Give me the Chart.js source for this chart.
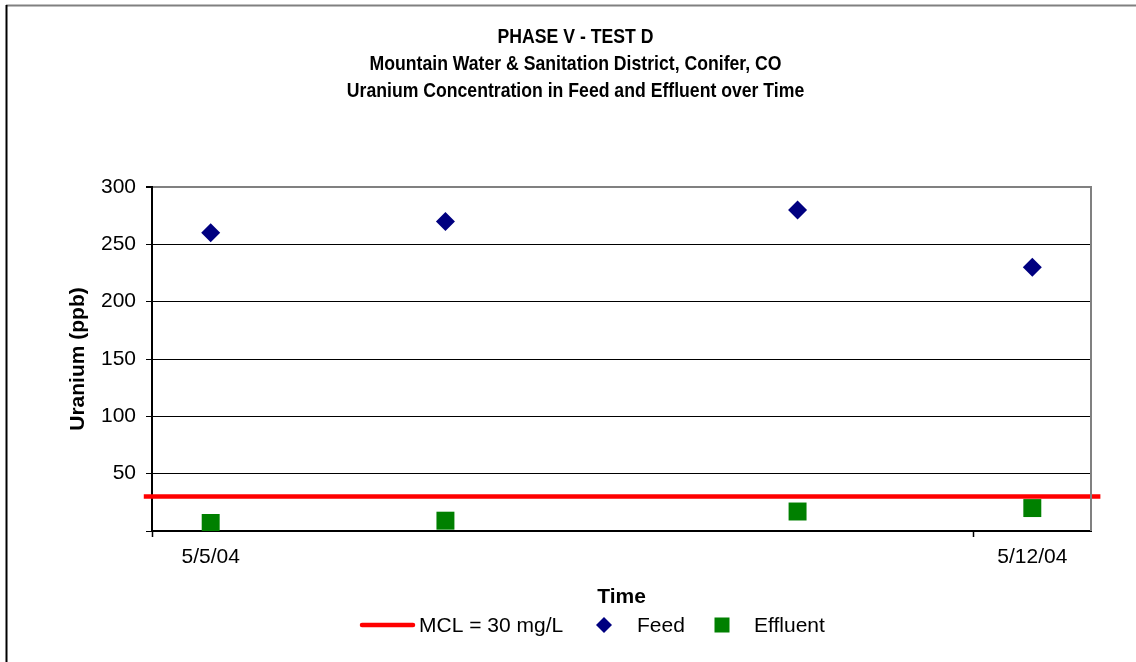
<!DOCTYPE html>
<html>
<head>
<meta charset="utf-8">
<script src="https://cdn.jsdelivr.net/npm/chart.js@4/dist/chart.umd.min.js"></script>
<style>
  html, body { margin: 0; padding: 0; background: #fff; }
  #wrap { width: 1136px; height: 662px; position: relative; }
</style>
</head>
<body>
<div id="wrap"><canvas id="chart"></canvas></div>
<script>
// sample dates and readings (ppb)
const sampleDates = ['5/5/04', '5/7/04', '5/10/04', '5/12/04']
const feedValues = [260, 270, 280, 230]
const effluentValues = [7, 9, 17, 20]
const mclValue = 30
const mclLabel = 'MCL = 30 mg/L'
const xTickLabels = ['5/5/04', '5/12/04']
const titleLines = [
  'PHASE V - TEST D',
  'Mountain Water & Sanitation District, Conifer, CO',
  'Uranium Concentration in Feed and Effluent over Time',
]

const DAY = 24 * 3600 * 1000
const toDate = (s) => {
  const [m, d, y] = s.split('/').map(Number)
  return Date.UTC(2000 + y, m - 1, d)
}
const start = toDate(sampleDates[0])
const dayOf = (s) => (toDate(s) - start) / DAY

const FONT = "'Liberation Sans', Arial, sans-serif"

const frame = {
  id: 'frame',
  beforeDraw(chart) {
    const { ctx } = chart
    ctx.save()
    ctx.fillStyle = '#fff'
    ctx.fillRect(0, 0, chart.width, chart.height)
    ctx.lineWidth = 2
    ctx.strokeStyle = '#808080'
    ctx.beginPath()
    ctx.moveTo(6, 5.5)
    ctx.lineTo(chart.width, 5.5)
    ctx.stroke()
    ctx.strokeStyle = '#000'
    ctx.beginPath()
    ctx.moveTo(6.5, 5)
    ctx.lineTo(6.5, chart.height)
    ctx.stroke()

    // condensed title (no narrow font installed, so squeeze horizontally)
    ctx.font = 'bold 21px ' + FONT
    ctx.textAlign = 'center'
    ctx.textBaseline = 'middle'
    ctx.fillStyle = '#000'
    const cx = (chart.chartArea.left + chart.chartArea.right) / 2 - 46
    titleLines.forEach((line, i) => {
      ctx.save()
      ctx.translate(cx, 37 + i * 27)
      ctx.scale(0.84, 1)
      ctx.fillText(line, 0, 0)
      ctx.restore()
    })
    ctx.restore()
  },
  afterDraw(chart) {
    const { ctx, chartArea: a } = chart
    ctx.save()
    // right edge of the plot frame
    ctx.strokeStyle = '#808080'
    ctx.lineWidth = 2
    ctx.beginPath()
    ctx.moveTo(a.right, a.top - 1)
    ctx.lineTo(a.right, a.bottom)
    ctx.stroke()

    // legend
    const y = 625
    ctx.font = '21px ' + FONT
    ctx.textBaseline = 'middle'
    ctx.fillStyle = '#000'
    ctx.strokeStyle = '#ff0000'
    ctx.lineWidth = 4.5
    ctx.lineCap = 'round'
    ctx.beginPath()
    ctx.moveTo(362, y)
    ctx.lineTo(413, y)
    ctx.stroke()
    ctx.fillText(mclLabel, 419, y + 1)

    ctx.fillStyle = '#000080'
    ctx.beginPath()
    ctx.moveTo(604 - 8, y)
    ctx.lineTo(604, y - 8)
    ctx.lineTo(604 + 8, y)
    ctx.lineTo(604, y + 8)
    ctx.closePath()
    ctx.fill()
    ctx.fillStyle = '#000'
    ctx.fillText('Feed', 637, y + 1)

    ctx.fillStyle = '#008000'
    ctx.fillRect(722 - 7.5, y - 7.5, 15, 15)
    ctx.fillStyle = '#000'
    ctx.fillText('Effluent', 754, y + 1)
    ctx.restore()
  },
}

new Chart(document.getElementById('chart'), {
  type: 'scatter',
  data: {
    datasets: [
      {
        label: mclLabel,
        type: 'line',
        data: [{ x: -0.57, y: mclValue }, { x: 7.58, y: mclValue }],
        borderColor: '#ff0000',
        borderWidth: 4.5,
        pointRadius: 0,
        clip: false,
        order: 3,
      },
      {
        label: 'Feed',
        data: sampleDates.map((d, i) => ({ x: dayOf(d), y: feedValues[i] })),
        pointStyle: 'rectRot',
        pointRadius: 9.5,
        pointBorderWidth: 0,
        backgroundColor: '#000080',
        borderColor: '#000080',
        order: 1,
      },
      {
        label: 'Effluent',
        data: sampleDates.map((d, i) => ({ x: dayOf(d), y: effluentValues[i] })),
        pointStyle: 'rect',
        pointRadius: 12.7,
        pointBorderWidth: 0,
        backgroundColor: '#008000',
        borderColor: '#008000',
        order: 2,
      },
    ],
  },
  options: {
    responsive: true,
    maintainAspectRatio: false,
    animation: false,
    layout: { padding: { left: 66, right: 45, top: 187, bottom: 51 } },
    plugins: {
      legend: { display: false },
      tooltip: { enabled: false },
      title: { display: false },
    },
    scales: {
      x: {
        type: 'linear',
        min: -0.5,
        max: 7.5,
        afterBuildTicks: (scale) => {
          scale.ticks = [-0.5, 0, 6.5, 7].map((v) => ({ value: v }))
        },
        afterFit: (scale) => { scale.height = 80 },
        ticks: {
          autoSkip: false,
          maxRotation: 0,
          padding: 8,
          color: '#000',
          font: { family: FONT, size: 21 },
          callback: (v) => (v === 0 ? xTickLabels[0] : v === 7 ? xTickLabels[1] : ''),
        },
        grid: {
          drawOnChartArea: false,
          tickLength: 6,
          tickWidth: 1.5,
          tickColor: (c) => (c.tick && (c.tick.value === -0.5 || c.tick.value === 6.5) ? '#000' : 'rgba(0,0,0,0)'),
        },
        border: { color: '#000', width: 2 },
        title: {
          display: true,
          text: 'Time',
          color: '#000',
          font: { family: FONT, size: 21, weight: 'bold' },
          padding: { top: 0, bottom: 1 },
        },
      },
      y: {
        min: 0,
        max: 300,
        afterFit: (scale) => { scale.width = 86 },
        ticks: {
          stepSize: 50,
          padding: 10,
          color: '#000',
          font: { family: FONT, size: 21 },
          callback: (v) => (v === 0 ? '' : v),
        },
        grid: {
          color: (c) => (c.tick && c.tick.value === 300 ? '#808080' : '#000'),
          lineWidth: (c) => (c.tick && c.tick.value === 300 ? 2 : 1),
          tickColor: '#000',
          tickLength: 6,
        },
        border: { color: '#000', width: 2 },
        title: {
          display: true,
          text: 'Uranium (ppb)',
          color: '#000',
          font: { family: FONT, size: 21, weight: 'bold' },
          padding: { top: 0, bottom: 0 },
        },
      },
    },
  },
  plugins: [frame],
})
</script>
</body>
</html>
